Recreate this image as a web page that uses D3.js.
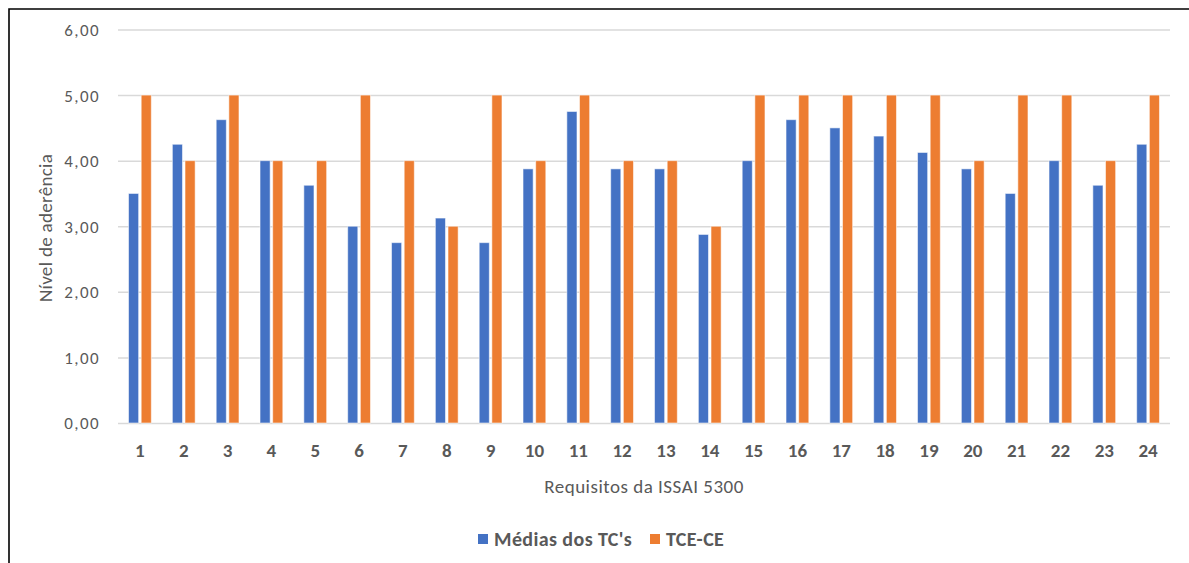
<!DOCTYPE html>
<html>
<head>
<meta charset="utf-8">
<script src="https://cdn.jsdelivr.net/npm/d3@7"></script>
<style>
  html, body { margin: 0; padding: 0; background: #fff; }
  svg { display: block; }
  text { font-family: Calibri, Carlito, Lato, "Open Sans", sans-serif; }
</style>
</head>
<body>
<svg id="chart" width="1189" height="563"></svg>
<script>
// Requisitos da ISSAI 5300 (1..24)
const categories = ["1","2","3","4","5","6","7","8","9","10","11","12",
                    "13","14","15","16","17","18","19","20","21","22","23","24"];
const seriesNames = ["Médias dos TC's", "TCE-CE"];
const mediasTCs = [3.50, 4.25, 4.625, 4.00, 3.625, 3.00, 2.75, 3.125, 2.75, 3.875, 4.75, 3.875,
                   3.875, 2.875, 4.00, 4.625, 4.50, 4.375, 4.125, 3.875, 3.50, 4.00, 3.625, 4.25];
const tceCE     = [5, 4, 5, 4, 4, 5, 4, 3, 5, 4, 5, 4,
                   4, 3, 5, 5, 5, 5, 5, 4, 5, 5, 4, 5];
const yTicks = [0, 1, 2, 3, 4, 5, 6];
const colors = ["#4472C4", "#ED7D31"];

const svg = d3.select("#chart");
const W = 1189, H = 563;

// chart frame
svg.append("path")
  .attr("d", `M${W + 2},9 L9,9 L9,${H + 2}`)
  .attr("fill", "none")
  .attr("stroke", "#000")
  .attr("stroke-width", 1.6);

const plot = { left: 118, right: 1170, top: 29.5, bottom: 423 };

const y = d3.scaleLinear().domain([0, 6]).range([plot.bottom, plot.top]);
const x0 = d3.scaleBand().domain(categories).range([plot.left, plot.right])
  .paddingInner(0.48).paddingOuter(0.24);
const x1 = d3.scaleBand().domain(seriesNames).range([0, x0.bandwidth()])
  .paddingInner(0.2);

// horizontal gridlines + tick labels
const yAxis = d3.axisLeft(y).tickValues(yTicks)
  .tickSize(-(plot.right - plot.left))
  .tickPadding(18)
  .tickFormat(d => d3.format(".2f")(d).replace(".", ","));
const gy = svg.append("g").attr("transform", `translate(${plot.left},0)`).call(yAxis);
gy.select(".domain").remove();
gy.selectAll(".tick line").attr("stroke", "#D9D9D9").attr("stroke-width", 1.5);
gy.selectAll(".tick text")
  .attr("fill", "#595959")
  .style("font-size", "17px")
  .style("letter-spacing", "1.4px")
  .attr("dy", "0.35em");

// bars
const data = categories.map((c, i) => ({ cat: c, vals: [mediasTCs[i], tceCE[i]] }));
const groups = svg.append("g").selectAll("g").data(data).join("g")
  .attr("transform", d => `translate(${x0(d.cat)},0)`);
groups.selectAll("rect")
  .data(d => d.vals.map((v, j) => ({ key: seriesNames[j], v, j })))
  .join("rect")
  .attr("x", d => x1(d.key))
  .attr("width", x1.bandwidth())
  .attr("y", d => y(d.v))
  .attr("height", d => y(0) - y(d.v))
  .attr("fill", d => colors[d.j])
  .attr("stroke", "rgba(255,255,255,0.55)")
  .attr("stroke-width", 1);

// category labels
const xAxis = d3.axisBottom(x0).tickSize(0).tickPadding(21);
const gx = svg.append("g").attr("transform", `translate(0,${plot.bottom})`).call(xAxis);
gx.select(".domain").remove();
gx.selectAll(".tick text")
  .attr("fill", "#595959")
  .style("font-size", "19px")
  .style("font-weight", "bold");

// axis titles
svg.append("text")
  .attr("x", 644)
  .attr("y", 493)
  .attr("text-anchor", "middle")
  .attr("fill", "#595959")
  .style("font-size", "19px")
  .style("letter-spacing", "0.5px")
  .text("Requisitos da ISSAI 5300");

svg.append("text")
  .attr("transform", `translate(52,228) rotate(-90)`)
  .attr("text-anchor", "middle")
  .attr("fill", "#595959")
  .style("font-size", "19px")
  .style("letter-spacing", "0.3px")
  .text("Nível de aderência");

// legend
const legendItems = [
  { name: seriesNames[0], color: colors[0], x: 478 },
  { name: seriesNames[1], color: colors[1], x: 650 }
];
const lg = svg.append("g").selectAll("g").data(legendItems).join("g")
  .attr("transform", d => `translate(${d.x},534)`);
lg.append("rect").attr("width", 10).attr("height", 10).attr("fill", d => d.color);
lg.append("text")
  .attr("x", 16).attr("y", 5).attr("dy", "0.35em")
  .attr("fill", "#595959")
  .style("font-size", "20px")
  .style("font-weight", "bold")
  .style("letter-spacing", "0.4px")
  .text(d => d.name);
</script>
</body>
</html>
